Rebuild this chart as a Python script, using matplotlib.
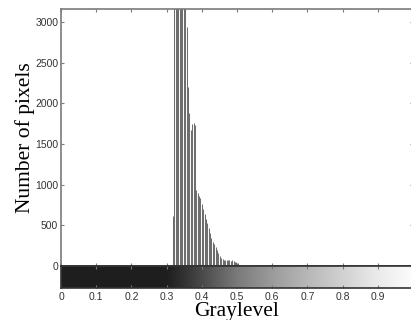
import numpy as np
import matplotlib
matplotlib.use('Agg')
import matplotlib.pyplot as plt
from matplotlib.colors import LinearSegmentedColormap

# ── data ─────────────────────────────────────────────────────────────────────
# histogram bins (index out of 255) and their pixel counts
bin_index = list(range(81, 151))
counts = [
    620, 3600, 4200, 3900, 4500, 4100, 3800, 4300, 3700, 3400,      # 81-90
    2940, 2200, 1880, 1670, 1740, 1760, 1730, 940, 900, 860,        # 91-100
    830, 760, 700, 640, 580, 530, 470, 400, 350, 300,               # 101-110
    270, 230, 195, 160, 125, 95, 80, 75, 70, 72,                    # 111-120
    68, 70, 65, 70, 60, 55, 45, 40, 14, 12,                         # 121-130
    10, 9, 10, 8, 7, 8, 6, 6, 5, 5,                                 # 131-140
    4, 4, 3, 4, 3, 3, 2, 2, 2, 2,                                   # 141-150
]

# colour bar gray shade at a few graylevel stops
cbar_pos  = [0.0, 0.30, 0.35, 0.40, 0.50, 0.60, 0.70, 0.80, 0.90, 1.0]
cbar_gray = [0.12, 0.12, 0.20, 0.29, 0.48, 0.61, 0.72, 0.82, 0.92, 0.99]

x_ticks = [0, 0.1, 0.2, 0.3, 0.4, 0.5, 0.6, 0.7, 0.8, 0.9, 1.0]
x_tick_labels = ['0', '0.1', '0.2', '0.3', '0.4', '0.5', '0.6', '0.7', '0.8', '0.9', '']
y_ticks = [0, 500, 1000, 1500, 2000, 2500, 3000]

# ─────────────────────────────────────────────────────────────────────────────
SPINE = '#7a7a7a'
TXT = '#333333'

fig = plt.figure(figsize=(4.11, 3.20), dpi=100)

ax = fig.add_axes([61 / 411, 54 / 320, 352 / 411, 257 / 320])
cax = fig.add_axes([61 / 411, 32 / 320, 352 / 411, 22 / 320])

levels = np.array(bin_index) / 255.0
ax.vlines(levels, 0, counts, color='#6e6e6e', linewidth=0.75)

ax.set_xlim(0, 1)
ax.set_ylim(0, 3160)
ax.set_xticks(x_ticks)
ax.set_xticklabels([])
ax.set_yticks(y_ticks)
ax.set_yticklabels([str(v) for v in y_ticks], fontsize=7.5, color=TXT,
                   family='Liberation Sans')
ax.tick_params(direction='in', length=2.5, width=0.8, color=SPINE,
               top=True, right=True, pad=2)
for s in ax.spines.values():
    s.set_color(SPINE)
    s.set_linewidth(1.2)
ax.spines['bottom'].set_color('#333333')

ax.set_ylabel('Number of pixels', family='Liberation Serif', fontsize=15.5,
              labelpad=0)

# ── colour bar
cmap = LinearSegmentedColormap.from_list(
    'gl', list(zip(cbar_pos, [(g, g, g) for g in cbar_gray])))
grad = np.linspace(0, 1, 512)[None, :]
cax.imshow(grad, cmap=cmap, vmin=0, vmax=1, aspect='auto',
           extent=[0, 1, 0, 1])
cax.set_xlim(0, 1)
cax.set_ylim(0, 1)
cax.set_yticks([])
cax.set_xticks(x_ticks)
cax.set_xticklabels(x_tick_labels, fontsize=7.5, color=TXT,
                    family='Liberation Sans')
cax.tick_params(direction='in', length=2.5, width=0.8, color=SPINE,
                top=True, pad=3)
for s in cax.spines.values():
    s.set_color('#333333')
    s.set_linewidth(1.2)

cax.set_xlabel('Graylevel', family='Liberation Serif', fontsize=15.5,
               labelpad=0)

fig.savefig('out.png', dpi=100)
